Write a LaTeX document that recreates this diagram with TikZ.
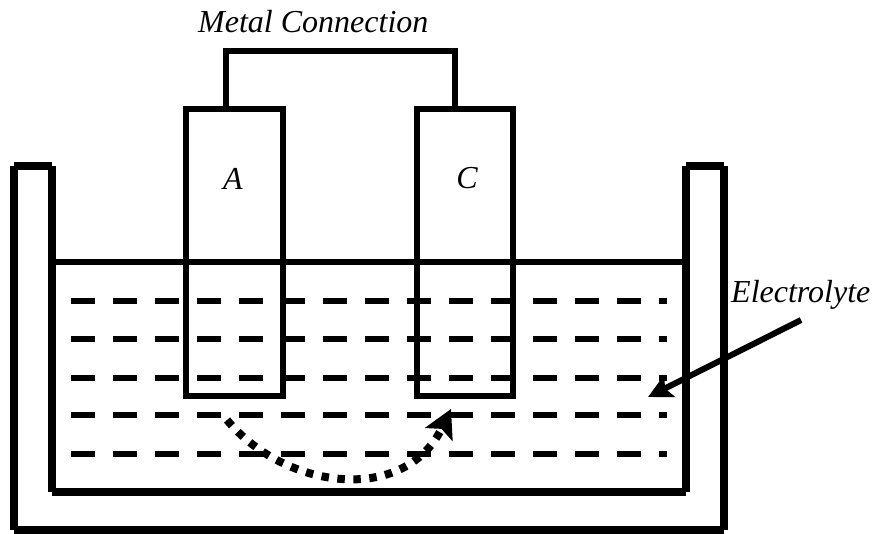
\documentclass[tikz,border=0pt]{standalone}
\usepackage{fontspec}
\setmainfont{Liberation Serif}
\usetikzlibrary{arrows.meta}
\tikzset{
  wall/.style={line width=8pt},
  bath/.style={line width=6.5pt},
  electrode/.style={line width=6pt},
  level/.style={line width=6pt, dash pattern=on 24pt off 18pt},
  label/.style={font=\fontsize{32}{36}\selectfont\itshape, inner sep=0pt}
}
\begin{document}
\begin{tikzpicture}[x=1pt,y=-1pt]
  \useasboundingbox (0,0) rectangle (874,533);

  \draw[level] (71, 300.5) -- (667, 300.5);
  \draw[level] (71, 339) -- (667, 339);
  \draw[level] (71, 377.5) -- (667, 377.5);
  \draw[level] (71, 415) -- (667, 415);
  \draw[level] (71, 454) -- (667, 454);

  \draw[bath] (52, 262) -- (686, 262);

  \draw[wall] (13.5, 166) -- (52, 166);
  \draw[wall] (13.5, 166) -- (13.5, 530);
  \draw[wall] (13.5, 530) -- (724, 530);
  \draw[wall] (724, 530) -- (724, 166);
  \draw[wall] (52, 166) -- (52, 492);
  \draw[wall] (52, 492) -- (685.5, 492);
  \draw[wall] (685.5, 492) -- (685.5, 166);
  \draw[wall] (685.5, 166) -- (724, 166);

  \draw[electrode] (186, 109) rectangle (282.5, 396);
  \draw[electrode] (416.5, 109) rectangle (513, 396);
  \draw[electrode] (225.5, 109) -- (225.5, 50.5) -- (455, 50.5) -- (455, 109);

  \node[label, anchor=base west] (metal) at (198, 32) {Metal Connection};
  \node[label, anchor=base] (anode) at (233, 189) {A};
  \node[label, anchor=base] (cathode) at (467, 188) {C};
  \node[label, anchor=base west] (electrolyte) at (731, 302) {Electrolyte};

  \coordinate (pointer) at (801, 320);
  \coordinate (target) at (648, 397);
  \draw[-{Stealth[length=24pt, width=24pt, inset=5pt]}, line width=6pt] (pointer) -- (target);

  \coordinate (source) at (227, 420);
  \coordinate (sink) at (451, 409);
  \draw[-{Stealth[length=28pt, width=30pt, inset=6pt]}, line width=8pt, dash pattern=on 7.5pt off 8.5pt]
    (source) .. controls (285, 490) and (405, 505) .. (sink);
\end{tikzpicture}
\end{document}
